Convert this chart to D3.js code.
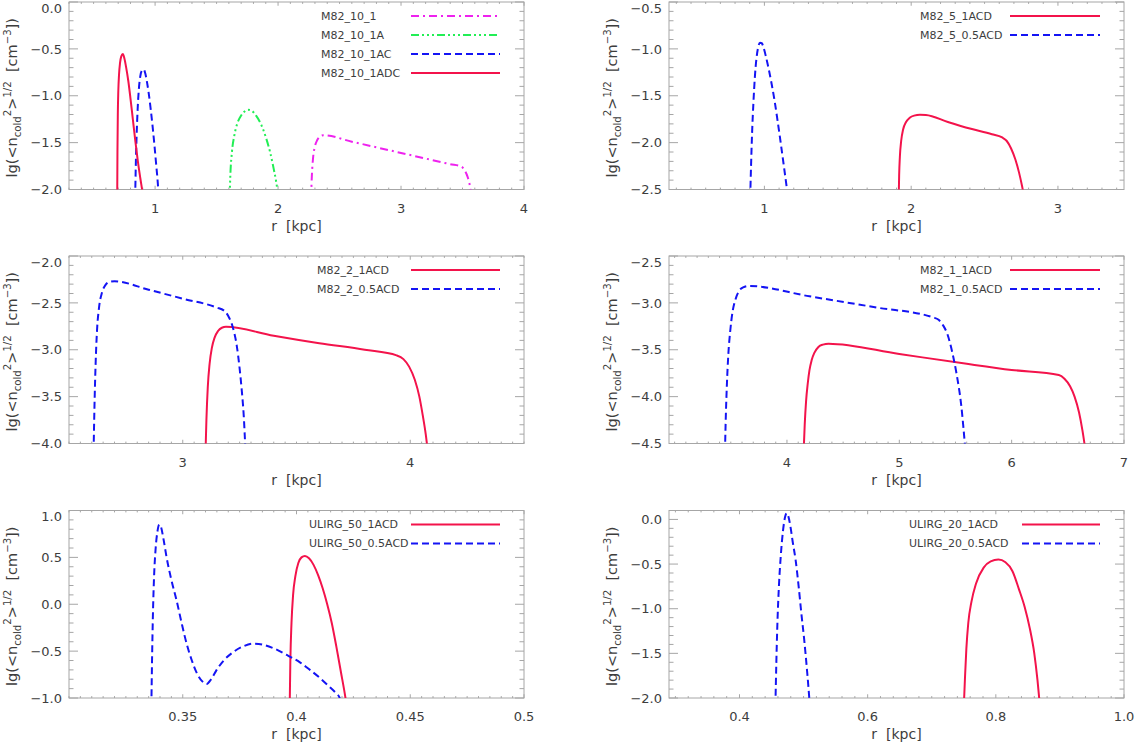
<!DOCTYPE html>
<html>
<head>
<meta charset="utf-8">
<script src="https://cdn.jsdelivr.net/npm/d3@7"></script>
<style>
  body { margin: 0; background: #fff; }
  svg { display: block; font-family: "DejaVu Sans", sans-serif; }
</style>
</head>
<body>
<svg id="chart" width="1136" height="742"></svg>
<script>
"use strict";

// ---- data: [r (kpc), lg(<n_cold^2>^1/2)] ----
var M82_10_1 = [[2.268,-2.1],[2.275,-1.85],[2.285,-1.66],[2.3,-1.54],[2.32,-1.47],[2.345,-1.43],[2.37,-1.42],
  [2.6,-1.49],[2.8,-1.55],[3.0,-1.61],[3.2,-1.67],[3.4,-1.73],[3.49,-1.755],[3.515,-1.79],[3.54,-1.86],[3.56,-1.96],[3.575,-2.1]];
var M82_10_1A = [[1.606,-2.1],[1.612,-1.85],[1.625,-1.6],[1.645,-1.42],[1.67,-1.29],[1.70,-1.21],[1.73,-1.165],[1.755,-1.15],
  [1.785,-1.16],[1.82,-1.21],[1.86,-1.3],[1.9,-1.44],[1.935,-1.6],[1.96,-1.75],[1.985,-1.92],[2.005,-2.1]];
var M82_10_1AC = [[0.838,-2.1],[0.843,-1.75],[0.85,-1.42],[0.858,-1.15],[0.868,-0.93],[0.88,-0.79],[0.894,-0.73],[0.908,-0.72],
  [0.92,-0.76],[0.935,-0.86],[0.95,-0.99],[0.965,-1.15],[0.98,-1.33],[0.995,-1.53],[1.01,-1.75],[1.022,-1.93],[1.03,-2.1]];
var M82_10_1ADC = [[0.692,-2.1],[0.694,-1.6],[0.697,-1.2],[0.701,-0.95],[0.707,-0.77],[0.715,-0.65],[0.725,-0.58],[0.738,-0.555],
  [0.75,-0.6],[0.765,-0.7],[0.782,-0.84],[0.8,-1.03],[0.82,-1.26],[0.84,-1.49],[0.86,-1.7],[0.88,-1.88],[0.9,-2.05],[0.905,-2.1]];

var M82_5_1ACD = [[1.915,-2.6],[1.918,-2.35],[1.923,-2.15],[1.932,-1.98],[1.945,-1.86],[1.965,-1.78],[1.99,-1.735],[2.02,-1.712],
  [2.06,-1.703],[2.1,-1.705],[2.25,-1.78],[2.4,-1.85],[2.55,-1.91],[2.62,-1.945],[2.65,-1.98],[2.68,-2.06],[2.71,-2.18],
  [2.735,-2.32],[2.755,-2.46],[2.772,-2.6]];
var M82_5_05ACD = [[0.903,-2.6],[0.909,-2.25],[0.916,-1.9],[0.925,-1.58],[0.935,-1.3],[0.946,-1.1],[0.958,-0.98],[0.97,-0.935],
  [0.982,-0.94],[0.995,-0.99],[1.01,-1.08],[1.03,-1.22],[1.05,-1.38],[1.07,-1.56],[1.09,-1.77],[1.11,-1.99],[1.13,-2.22],
  [1.148,-2.43],[1.162,-2.6]];

var M82_2_1ACD = [[3.1,-4.1],[3.104,-3.75],[3.11,-3.4],[3.118,-3.15],[3.128,-2.98],[3.14,-2.87],[3.155,-2.8],[3.172,-2.765],
  [3.19,-2.755],[3.4,-2.85],[3.6,-2.93],[3.8,-3.0],[3.94,-3.06],[3.97,-3.1],[3.995,-3.18],[4.02,-3.32],[4.04,-3.5],
  [4.055,-3.7],[4.068,-3.9],[4.078,-4.1]];
var M82_2_05ACD = [[2.608,-4.1],[2.612,-3.6],[2.617,-3.15],[2.623,-2.8],[2.632,-2.55],[2.645,-2.39],[2.66,-2.31],[2.68,-2.275],
  [2.7,-2.27],[2.85,-2.36],[3.0,-2.455],[3.15,-2.55],[3.18,-2.58],[3.2,-2.64],[3.22,-2.76],[3.237,-2.95],[3.25,-3.2],
  [3.26,-3.45],[3.268,-3.7],[3.276,-4.1]];

var M82_1_1ACD = [[4.148,-4.6],[4.158,-4.3],[4.17,-4.05],[4.185,-3.86],[4.2,-3.72],[4.22,-3.61],[4.245,-3.53],[4.28,-3.47],
  [4.32,-3.445],[4.37,-3.435],[5.0,-3.545],[5.6,-3.65],[6.0,-3.715],[6.42,-3.77],[6.47,-3.81],[6.52,-3.89],[6.56,-4.0],
  [6.6,-4.17],[6.63,-4.36],[6.66,-4.6]];
var M82_1_05ACD = [[3.448,-4.6],[3.456,-4.2],[3.466,-3.85],[3.478,-3.55],[3.495,-3.3],[3.515,-3.1],[3.54,-2.97],[3.57,-2.88],
  [3.61,-2.835],[3.66,-2.82],[4.2,-2.93],[4.8,-3.05],[5.3,-3.155],[5.35,-3.18],[5.39,-3.24],[5.43,-3.34],[5.47,-3.52],
  [5.51,-3.76],[5.55,-4.08],[5.59,-4.6]];

var ULIRG_50_1ACD = [[0.397,-1.1],[0.3973,-0.6],[0.3978,-0.2],[0.3985,0.1],[0.3995,0.3],[0.4008,0.44],[0.4022,0.5],
  [0.4037,0.515],[0.4055,0.49],[0.4075,0.42],[0.4095,0.31],[0.4115,0.17],[0.4135,0.0],[0.4155,-0.2],[0.4175,-0.45],
  [0.4195,-0.72],[0.4212,-0.95],[0.4222,-1.1]];
var ULIRG_50_05ACD = [[0.3362,-1.1],[0.3365,-0.6],[0.3369,-0.1],[0.3374,0.3],[0.3381,0.6],[0.3389,0.78],[0.3397,0.85],
  [0.3405,0.82],[0.3415,0.7],[0.3429,0.5],[0.345,0.26],[0.3473,0.04],[0.3495,-0.2],[0.3517,-0.42],[0.354,-0.6],
  [0.3561,-0.73],[0.3585,-0.82],[0.3605,-0.85],[0.3625,-0.8],[0.3649,-0.7],[0.368,-0.6],[0.3722,-0.51],[0.3765,-0.45],
  [0.381,-0.42],[0.385,-0.43],[0.39,-0.47],[0.3968,-0.555],[0.4015,-0.62],[0.4059,-0.7],[0.41,-0.78],[0.414,-0.87],
  [0.4172,-0.945],[0.419,-1.0],[0.4195,-1.05]];

var ULIRG_20_1ACD = [[0.75,-2.1],[0.752,-1.75],[0.754,-1.45],[0.757,-1.16],[0.762,-0.92],[0.769,-0.72],[0.781,-0.54],
  [0.792,-0.47],[0.804,-0.45],[0.815,-0.48],[0.826,-0.58],[0.836,-0.78],[0.845,-0.98],[0.853,-1.22],[0.86,-1.5],
  [0.865,-1.8],[0.869,-2.1]];
var ULIRG_20_05ACD = [[0.456,-2.1],[0.4575,-1.6],[0.459,-1.2],[0.4615,-0.75],[0.4645,-0.4],[0.468,-0.12],[0.4712,0.03],
  [0.4735,0.07],[0.476,0.04],[0.4795,-0.08],[0.483,-0.25],[0.4875,-0.45],[0.4923,-0.75],[0.4965,-1.05],[0.501,-1.35],
  [0.5055,-1.7],[0.51,-2.1]];

// tick values and labels
var yTicksA = [-2, -1.5, -1, -0.5, 0];
var yTicksB = [-2.5, -2, -1.5, -1, -0.5];
var yTicksC = [-4, -3.5, -3, -2.5, -2];
var yTicksD = [-4.5, -4, -3.5, -3, -2.5];
var yTicksE = [-1, -0.5, 0, 0.5, 1];
var xLabels1 = ["1", "2", "3", "4"];
var xLabels2 = ["1", "2", "3"];
var xLabels3 = ["3", "4"];
var xLabels4 = ["4", "5", "6", "7"];
var xLabels5 = ["0.35", "0.4", "0.45", "0.5"];
var xLabels6 = ["0.4", "0.6", "0.8", "1.0"];

// line styles
var RED = "#f3134b", BLUE = "#1414f4", GREEN = "#22ee55", MAGENTA = "#ee22ee";
var SOLID = null, DASH = "7,4", DASHDOT = "8,4,2,4", DASH3DOT = "8,3,2,3,2,3,2,3";

var panels = [
  { col: 0, row: 0, xd: [0.3, 4], yd: [-2, 0], xt: [1, 2, 3, 4], xl: xLabels1, xm: 0.1, yt: yTicksA,
    leg: [342, 252],
    series: [
      { name: "M82_10_1", data: M82_10_1, color: MAGENTA, dash: DASHDOT },
      { name: "M82_10_1A", data: M82_10_1A, color: GREEN, dash: DASH3DOT },
      { name: "M82_10_1AC", data: M82_10_1AC, color: BLUE, dash: DASH },
      { name: "M82_10_1ADC", data: M82_10_1ADC, color: RED, dash: SOLID }
    ] },
  { col: 1, row: 0, xd: [0.35, 3.45], yd: [-2.5, -0.5], xt: [1, 2, 3], xl: xLabels2, xm: 0.1, yt: yTicksB,
    leg: [341, 251],
    series: [
      { name: "M82_5_1ACD", data: M82_5_1ACD, color: RED, dash: SOLID },
      { name: "M82_5_0.5ACD", data: M82_5_05ACD, color: BLUE, dash: DASH }
    ] },
  { col: 0, row: 1, xd: [2.5, 4.5], yd: [-4, -2], xt: [3, 4], xl: xLabels3, xm: 0.05, yt: yTicksC,
    leg: [342, 248],
    series: [
      { name: "M82_2_1ACD", data: M82_2_1ACD, color: RED, dash: SOLID },
      { name: "M82_2_0.5ACD", data: M82_2_05ACD, color: BLUE, dash: DASH }
    ] },
  { col: 1, row: 1, xd: [2.95, 7.0], yd: [-4.5, -2.5], xt: [4, 5, 6, 7], xl: xLabels4, xm: 0.1, yt: yTicksD,
    leg: [341, 251],
    series: [
      { name: "M82_1_1ACD", data: M82_1_1ACD, color: RED, dash: SOLID },
      { name: "M82_1_0.5ACD", data: M82_1_05ACD, color: BLUE, dash: DASH }
    ] },
  { col: 0, row: 2, xd: [0.3, 0.5], yd: [-1, 1], xt: [0.35, 0.4, 0.45, 0.5], xl: xLabels5, xm: 0.005, yt: yTicksE,
    leg: [342, 240],
    series: [
      { name: "ULIRG_50_1ACD", data: ULIRG_50_1ACD, color: RED, dash: SOLID },
      { name: "ULIRG_50_0.5ACD", data: ULIRG_50_05ACD, color: BLUE, dash: DASH }
    ] },
  { col: 1, row: 2, xd: [0.29, 1.0], yd: [-2, 0.1], xt: [0.4, 0.6, 0.8, 1.0], xl: xLabels6, xm: 0.02, yt: yTicksA,
    leg: [353, 240],
    series: [
      { name: "ULIRG_20_1ACD", data: ULIRG_20_1ACD, color: RED, dash: SOLID },
      { name: "ULIRG_20_0.5ACD", data: ULIRG_20_05ACD, color: BLUE, dash: DASH }
    ] }
];

// ---- layout ----
var colLeft = [69, 669], rowTop = [2, 256, 510.5];
var W = 455, H = 187.5;
var AXIS = "#a6a6a6", TXT = "#3d3d3d";
var yFmt = function(v){ return d3.format(".1f")(v).replace("-", "\u2212"); };

var svg = d3.select("#chart");

function minorTicks(d, step){
  var out = [], k0 = Math.ceil(d[0] / step - 1e-6), k1 = Math.floor(d[1] / step + 1e-6);
  for (var k = k0; k <= k1; k++) out.push(+(k * step).toFixed(6));
  return out;
}

panels.forEach(function(p, i){
  var left = colLeft[p.col], top = rowTop[p.row];
  var x = d3.scaleLinear().domain(p.xd).range([0, W]);
  var y = d3.scaleLinear().domain(p.yd).range([H, 0]);

  var g = svg.append("g").attr("transform", "translate(" + left + "," + top + ")");

  g.append("clipPath").attr("id", "clip" + i)
    .append("rect").attr("width", W).attr("height", H);

  // minor + major ticks, mirrored on all sides
  var ticks = g.append("g").attr("stroke", AXIS).attr("stroke-width", 1);
  minorTicks(p.xd, p.xm).forEach(function(v){
    var xx = x(v), major = p.xt.some(function(t){ return Math.abs(t - v) < 1e-6; });
    var len = major ? 3.75 : 1.9;
    ticks.append("line").attr("x1", xx).attr("x2", xx).attr("y1", H).attr("y2", H - len);
    ticks.append("line").attr("x1", xx).attr("x2", xx).attr("y1", 0).attr("y2", len);
  });
  minorTicks(p.yd, 0.1).forEach(function(v){
    var yy = y(v), major = p.yt.some(function(t){ return Math.abs(t - v) < 1e-6; });
    var len = major ? 9 : 4.5;
    ticks.append("line").attr("x1", 0).attr("x2", len).attr("y1", yy).attr("y2", yy);
    ticks.append("line").attr("x1", W).attr("x2", W - len).attr("y1", yy).attr("y2", yy);
  });

  g.append("rect").attr("width", W).attr("height", H)
    .attr("fill", "none").attr("stroke", AXIS).attr("stroke-width", 1);

  // tick labels
  g.selectAll(".xl").data(p.xt).enter().append("text")
    .attr("x", function(d){ return x(d); }).attr("y", H + 23)
    .attr("text-anchor", "middle").attr("font-size", 13).attr("fill", TXT)
    .text(function(d, j){ return p.xl[j]; });

  g.selectAll(".yl").data(p.yt).enter().append("text")
    .attr("x", -7).attr("y", function(d){ return Math.max(y(d), 6); }).attr("dy", "0.36em")
    .attr("text-anchor", "end").attr("font-size", 13).attr("fill", TXT)
    .text(function(d){ return yFmt(d); });

  // axis titles
  g.append("text").attr("x", W / 2).attr("y", H + 41)
    .attr("text-anchor", "middle").attr("font-size", 14).attr("fill", TXT)
    .style("white-space", "pre").text("r  [kpc]");

  var yt = g.append("text")
    .attr("transform", "translate(" + (-52) + "," + (H / 2 + 2) + ") rotate(-90)")
    .attr("text-anchor", "middle").attr("font-size", 14.5).attr("fill", TXT)
    .style("white-space", "pre");
  yt.append("tspan").text("lg(<n");
  yt.append("tspan").attr("font-size", "70%").attr("dy", 3.5).text("cold");
  yt.append("tspan").attr("font-size", "70%").attr("dy", -9.5).text("2");
  yt.append("tspan").attr("dy", 6).text(">");
  yt.append("tspan").attr("font-size", "70%").attr("dy", -6).text("1/2");
  yt.append("tspan").attr("dy", 6).text("  [cm");
  yt.append("tspan").attr("font-size", "70%").attr("dy", -6).text("\u22123");
  yt.append("tspan").attr("dy", 6).text("])");

  // curves
  var line = d3.line()
    .x(function(d){ return x(d[0]); })
    .y(function(d){ return y(d[1]); })
    .curve(d3.curveMonotoneX);

  g.append("g").attr("clip-path", "url(#clip" + i + ")")
    .selectAll("path").data(p.series).enter().append("path")
    .attr("d", function(d){ return line(d.data); })
    .attr("fill", "none")
    .attr("stroke", function(d){ return d.color; })
    .attr("stroke-width", 2)
    .attr("stroke-dasharray", function(d){ return d.dash; });

  // legend
  var leg = g.append("g");
  p.series.forEach(function(s, j){
    var ly = 14 + 19 * j;
    leg.append("text").attr("x", p.leg[1]).attr("y", ly).attr("dy", "0.36em")
      .attr("font-size", 11).attr("fill", TXT).text(s.name);
    leg.append("line").attr("x1", p.leg[0]).attr("x2", 431).attr("y1", ly).attr("y2", ly)
      .attr("stroke", s.color).attr("stroke-width", 2)
      .attr("stroke-dasharray", s.dash);
  });
});
</script>
</body>
</html>
